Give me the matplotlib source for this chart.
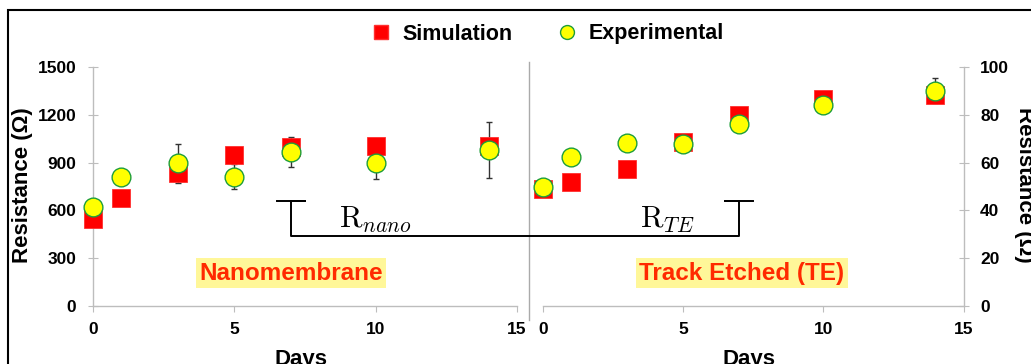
import matplotlib
matplotlib.use('Agg')
import matplotlib.pyplot as plt
from matplotlib.lines import Line2D
from matplotlib.patches import Rectangle
import numpy as np

# ---------------- data ----------------
days = [0, 1, 3, 5, 7, 10, 14]
nano_sim = [545, 680, 835, 945, 995, 1005, 1005]
nano_exp = [619, 812, 895, 812, 968, 895, 979]
nano_err = [0, 0, 124, 78, 94, 98, 176]
te_sim = [49.0, 51.7, 57.2, 68.7, 79.9, 86.6, 88.3]
te_exp = [49.9, 62.5, 68.3, 67.7, 76.0, 84.1, 90.1]
te_err = [0, 0, 0, 0, 0, 0, 5.3]
left_yticks = [0, 300, 600, 900, 1200, 1500]
right_yticks = [0, 20, 40, 60, 80, 100]
xticks = [0, 5, 10, 15]
legend_labels = ["Simulation", "Experimental"]
panel_labels = ["Nanomembrane", "Track Etched (TE)"]
bracket_labels = [r"$\mathrm{R}_{nano}$", r"$\mathrm{R}_{TE}$"]
ylabel = "Resistance (\u03a9)"
xlabel = "Days"

plt.rcParams['font.family'] = ['Liberation Sans', 'DejaVu Sans']
plt.rcParams['mathtext.fontset'] = 'cm'

W, H = 1031, 364
fig = plt.figure(figsize=(W / 100, H / 100), dpi=100)

def px(x0, y0, x1, y1):
    # pixel box (top-left origin) -> figure fraction [l, b, w, h]
    return [x0 / W, 1 - y1 / H, (x1 - x0) / W, (y1 - y0) / H]

ax1 = fig.add_axes(px(93, 67, 517, 306))
ax2 = fig.add_axes(px(542.7, 67, 963.5, 306))

grey = '#BDBDBD'
sq_kw = dict(marker='s', ms=13, mfc='#FF0000', mec='#FF3030', mew=0.6, ls='none', zorder=3, clip_on=False)
ci_kw = dict(marker='o', ms=13.5, mfc='#FFFF00', mec='#1E9E3A', mew=1.0, ls='none', zorder=4, clip_on=False)

def draw_panel(ax, sim, exp, err, ymax, right=False):
    ax.set_xlim(0, 15)
    ax.set_ylim(0, ymax)
    idx = [i for i, e in enumerate(err) if e > 0]
    if idx:
        ax.errorbar([days[i] for i in idx], [exp[i] for i in idx],
                    yerr=[err[i] for i in idx], fmt='none', ecolor='#333333',
                    elinewidth=1.0, capsize=2, capthick=1.0, zorder=2, clip_on=False)
    ax.plot(days, sim, **sq_kw)
    ax.plot(days, exp, **ci_kw)
    ax.set_xticks(xticks)
    ax.spines['top'].set_visible(False)
    if right:
        ax.spines['left'].set_visible(False)
        ax.yaxis.tick_right()
        ax.set_yticks(right_yticks)
    else:
        ax.spines['right'].set_visible(False)
        ax.set_yticks(left_yticks)
    for s in ['left', 'right', 'bottom']:
        ax.spines[s].set_color(grey)
        ax.spines[s].set_linewidth(1.0)
    ax.tick_params(axis='y', direction='inout', length=7, width=0.8, color=grey,
                   pad=8.5, labelsize=12.5)
    ax.tick_params(axis='x', direction='out', length=4, width=0.8, color=grey,
                   pad=7.5, labelsize=12.5)
    for lab in ax.get_xticklabels() + ax.get_yticklabels():
        lab.set_fontweight('bold')

draw_panel(ax1, nano_sim, nano_exp, nano_err, 1500)
draw_panel(ax2, te_sim, te_exp, te_err, 100, right=True)

# panel labels
box = dict(boxstyle='square,pad=0.14', fc='#FFF799', ec='none')
ax1.text(7.0, 207, panel_labels[0], ha='center', va='center', fontsize=17.5,
         fontweight='bold', color='#FF2A00', bbox=box, zorder=5)
ax2.text(7.1, 13.8, panel_labels[1], ha='center', va='center', fontsize=17.5,
         fontweight='bold', color='#FF2A00', bbox=box, zorder=5)

# bracket between panels
p_left = ax1.transData.transform((7, 440))
p_right = ax2.transData.transform((7, 440 / 15))
cap_y = ax1.transData.transform((7, 660))[1]
half = 14
inv = fig.transFigure.inverted()
xs = [p_left[0] - half, p_left[0] + half, p_left[0], p_left[0], p_right[0], p_right[0], p_right[0] - half, p_right[0] + half]
ys = [cap_y, cap_y, cap_y, p_left[1], p_right[1], cap_y, cap_y, cap_y]
pts = inv.transform(np.column_stack([xs, ys]))
fig.add_artist(Line2D(pts[:, 0], pts[:, 1], color='black', lw=1.4, transform=fig.transFigure, zorder=6))

ax1.text(10.0, 489, bracket_labels[0], ha='center', va='baseline', fontsize=22, zorder=6)
ax2.text(4.43, 32.6, bracket_labels[1], ha='center', va='baseline', fontsize=22, zorder=6)

# separator line
fig.add_artist(Line2D([529 / W, 529 / W], [1 - 62 / H, 1 - 320 / H], color='#AAAAAA', lw=1.0,
                      transform=fig.transFigure))

# outer frame
fig.add_artist(Rectangle((8 / W, -0.2), 1.2, 1 - 10 / H + 0.2, fill=False, ec='black', lw=1.5,
                         transform=fig.transFigure))

# axis labels
fig.text(23 / W, 1 - 185 / H, ylabel, rotation=90, ha='center', va='center', fontsize=16, fontweight='bold')
fig.text(1024 / W, 1 - 185 / H, ylabel, rotation=270, ha='center', va='center', fontsize=16, fontweight='bold')
fig.text(301 / W, 1 - 364.5 / H, xlabel, ha='center', va='baseline', fontsize=16, fontweight='bold')
fig.text(749 / W, 1 - 364.5 / H, xlabel, ha='center', va='baseline', fontsize=16, fontweight='bold')

# legend
handles = [Line2D([], [], marker='s', ms=10, mfc='#FF0000', mec='#FF3030', ls='none'),
           Line2D([], [], marker='o', ms=10, mfc='#FFFF00', mec='#1E9E3A', ls='none')]
fig.legend(handles, legend_labels, loc='center', bbox_to_anchor=(547 / W, 1 - 34 / H), ncol=2,
           frameon=False, prop=dict(size=15.5, weight='bold'), handlelength=1.0,
           handletextpad=0.5, columnspacing=2.0, borderpad=0, borderaxespad=0)

fig.savefig('out.png', dpi=100)
